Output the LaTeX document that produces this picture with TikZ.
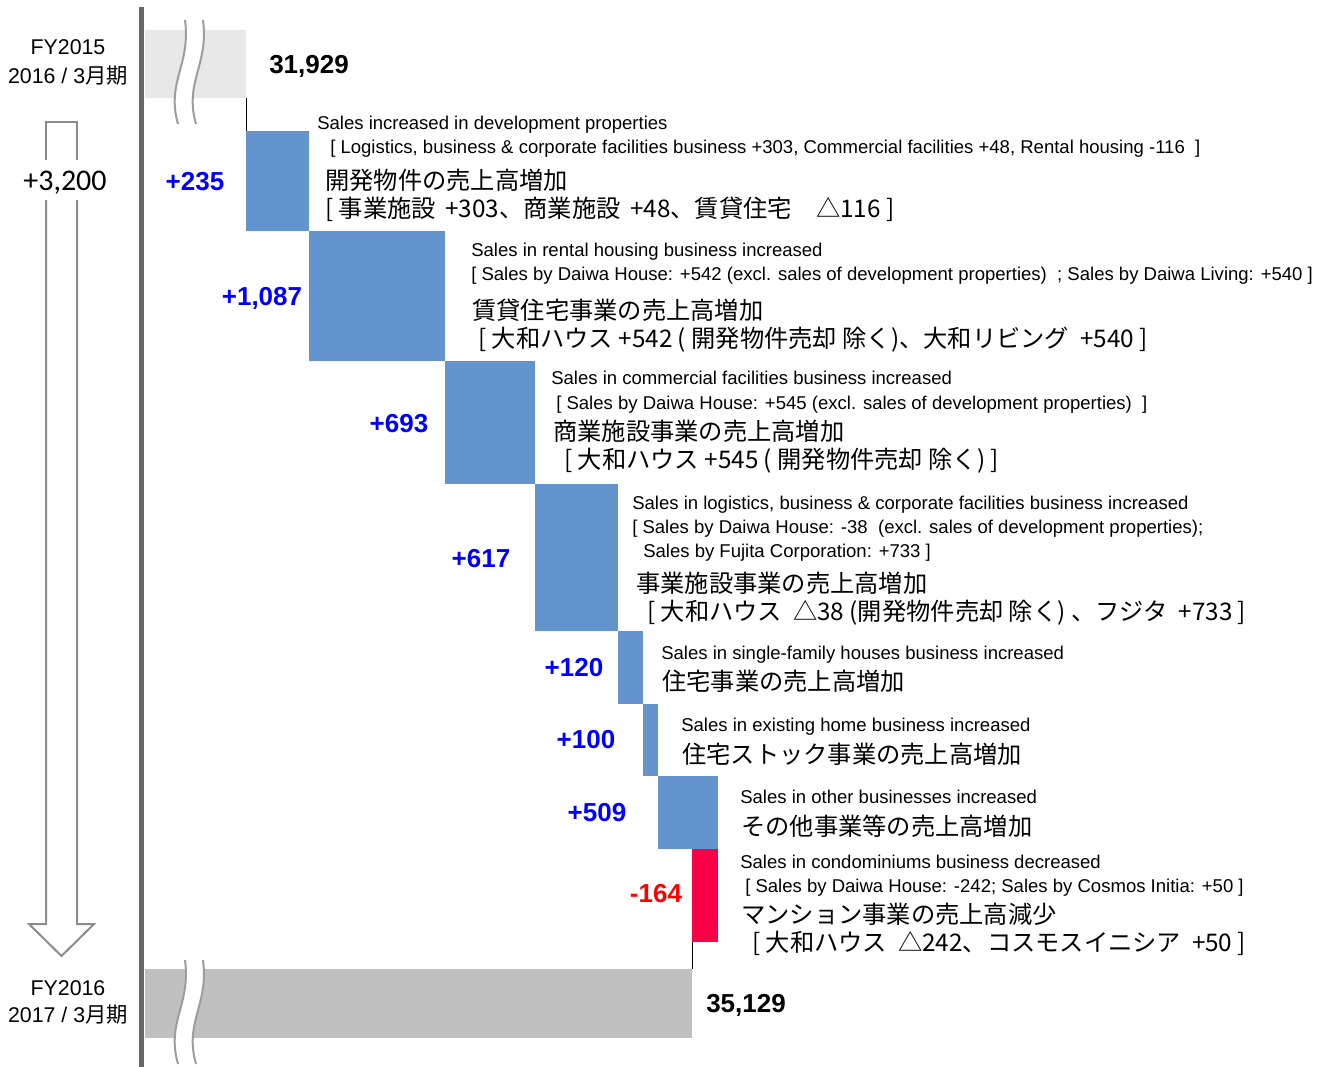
\documentclass[tikz,border=0pt]{standalone}
\usepackage{fontspec}
\setmainfont{Liberation Sans}
\newfontfamily\jpfont{Noto Sans CJK JP}
\newfontfamily\numfont{Carlito}
\definecolor{barblue}{RGB}{99,148,205}
\definecolor{barred}{RGB}{250,0,70}
\definecolor{startgray}{RGB}{232,232,232}
\definecolor{endgray}{RGB}{192,192,192}
\definecolor{axisgray}{RGB}{102,102,102}
\definecolor{arrowgray}{RGB}{140,140,140}

\tikzset{
  en/.style={anchor=base west, inner sep=0pt, font=\fontsize{13.9}{16}\selectfont},
  jp/.style={anchor=base west, inner sep=0pt, font=\jpfont\fontsize{18.2}{21}\selectfont},
  val/.style={anchor=base, inner sep=0pt, text=blue, font=\bfseries\fontsize{19.5}{22}\selectfont},
  total/.style={anchor=base west, inner sep=0pt, font=\bfseries\fontsize{19.5}{22}\selectfont},
  year/.style={anchor=base, inner sep=0pt, font=\fontsize{16}{18}\selectfont},
  breakline/.style={draw=arrowgray!85, line width=1.5pt}
}

\begin{document}
\begin{tikzpicture}[x=0.75pt,y=-0.75pt]
        \useasboundingbox (0,0) rectangle (1325,1067);

        % Draw the start and end bars
        \fill[startgray] (145,30) rectangle (246,98);
        \fill[endgray] (145,969) rectangle (692,1038);

        % Draw the axis
        \draw[axisgray, line width=3.75pt] (141,7) -- (141,1067);

        % Draw the breaks in the bars
        \foreach \yb in {20,960} {
          \fill[white] (185,\yb) .. controls (191,\yb+45) and (166,\yb+62) .. (178,\yb+104)
            -- (196,\yb+104) .. controls (184,\yb+62) and (209,\yb+45) .. (203,\yb) -- cycle;
          \draw[breakline] (185,\yb) .. controls (191,\yb+45) and (166,\yb+62) .. (178,\yb+104);
          \draw[breakline] (203,\yb) .. controls (209,\yb+45) and (184,\yb+62) .. (196,\yb+104);
        }

        % Draw the increase bars
        \fill[barblue] (246,131) rectangle (309,231);
        \fill[barblue] (309,231) rectangle (445,361);
        \fill[barblue] (445,361) rectangle (535,484);
        \fill[barblue] (535,484) rectangle (618,631);
        \fill[barblue] (618,631) rectangle (643,704);
        \fill[barblue] (643,704) rectangle (658,776);
        \fill[barblue] (658,776) rectangle (718,849);

        % Draw the decrease bar
        \fill[barred] (692,849) rectangle (718,942);

        % Draw the thin connectors
        \coordinate (startcorner) at (246,98);
        \coordinate (firsttop) at (246,131);
        \coordinate (redbottom) at (692,942);
        \coordinate (endcorner) at (692,969);
        \draw[black, line width=0.75pt] (startcorner) -- (firsttop);
        \draw[black, line width=0.75pt] (redbottom) -- (endcorner);

        % Label the years
        \node[year] (fy15) at (68,55) {FY2015};
        \node[year] (fy15b) at (68,83) {2016 / 3{\jpfont 月期}};
        \node[year] (fy16) at (68,995) {FY2016};
        \node[year] (fy16b) at (68,1022) {2017 / 3{\jpfont 月期}};

        % Draw the hollow arrow for the total change
        \draw[arrowgray, line width=1.5pt, line join=miter]
          (46,160) -- (46,122) -- (77,122) -- (77,160);
        \draw[arrowgray, line width=1.5pt, line join=miter]
          (46,200) -- (46,924) -- (29,924) -- (61.5,956) -- (94,924) -- (77,924) -- (77,200);
        \node[font=\numfont\fontsize{22.5}{26}\selectfont] (total) at (65,183) {+3,200};

        % Label the totals
        \node[total] (startval) at (269,73) {31,929};
        \node[total] (endval) at (706,1012) {35,129};

        % Label the changes
        \node[val] (v1) at (195,190) {+235};
        \node[val] (v2) at (262,305) {+1,087};
        \node[val] (v3) at (399,432) {+693};
        \node[val] (v4) at (481,567) {+617};
        \node[val] (v5) at (574,676) {+120};
        \node[val] (v6) at (586,748) {+100};
        \node[val] (v7) at (597,821) {+509};
        \node[val, text=red] (v8) at (656,902) {-164};

        % Development properties
        \node[en] (d1) at (317,129) {Sales increased in development properties};
        \node[en] (d2) at (330,153) {[ Logistics, business \& corporate facilities business +303, Commercial facilities +48, Rental housing -116 \ ]};
        \node[jp] (d3) at (325,189) {開発物件の売上高増加};
        \node[jp] (d4) at (325,217) {[ 事業施設 \,+303、商業施設 \,+48、賃貸住宅　△116 ]};

        % Rental housing
        \node[en] (r1) at (471,256) {Sales in rental housing business increased};
        \node[en] (r2) at (471,280) {[ Sales by Daiwa House: +542 (excl. sales of development properties) \ ; Sales by Daiwa Living: +540 ]};
        \node[jp] (r3) at (472,319) {賃貸住宅事業の売上高増加};
        \node[jp] (r4) at (478,347) {[ 大和ハウス +542 ( 開発物件売却 除く)、大和リビング \ +540 ]};

        % Commercial facilities
        \node[en] (c1) at (551,384) {Sales in commercial facilities business increased};
        \node[en] (c2) at (556,409) {[ Sales by Daiwa House: +545 (excl. sales of development properties) \ ]};
        \node[jp] (c3) at (553,440) {商業施設事業の売上高増加};
        \node[jp] (c4) at (564,468) {[ 大和ハウス +545 ( 開発物件売却 除く) ]};

        % Logistics, business & corporate facilities
        \node[en] (l1) at (632,509) {Sales in logistics, business \& corporate facilities business increased};
        \node[en] (l2) at (632,533) {[ Sales by Daiwa House: -38 \ (excl. sales of development properties);};
        \node[en] (l3) at (643,557) {Sales by Fujita Corporation: +733 ]};
        \node[jp] (l4) at (636,592) {事業施設事業の売上高増加};
        \node[jp] (l5) at (647,620) {[ 大和ハウス \ △38 (開発物件売却 除く) 、フジタ \ +733 ]};

        % Single-family houses
        \node[en] (s1) at (661,659) {Sales in single-family houses business increased};
        \node[jp] (s2) at (662,690) {住宅事業の売上高増加};

        % Existing homes
        \node[en] (h1) at (681,731) {Sales in existing home business increased};
        \node[jp] (h2) at (682,763) {住宅ストック事業の売上高増加};

        % Other businesses
        \node[en] (o1) at (740,803) {Sales in other businesses increased};
        \node[jp] (o2) at (741,835) {その他事業等の売上高増加};

        % Condominiums
        \node[en] (m1) at (740,868) {Sales in condominiums business decreased};
        \node[en] (m2) at (745,892) {[ Sales by Daiwa House: -242; Sales by Cosmos Initia: +50 ]};
        \node[jp] (m3) at (741,923) {マンション事業の売上高減少};
        \node[jp] (m4) at (752,951) {[ 大和ハウス \ △242、コスモスイニシア \ +50 ]};

    \end{tikzpicture}
\end{document}
